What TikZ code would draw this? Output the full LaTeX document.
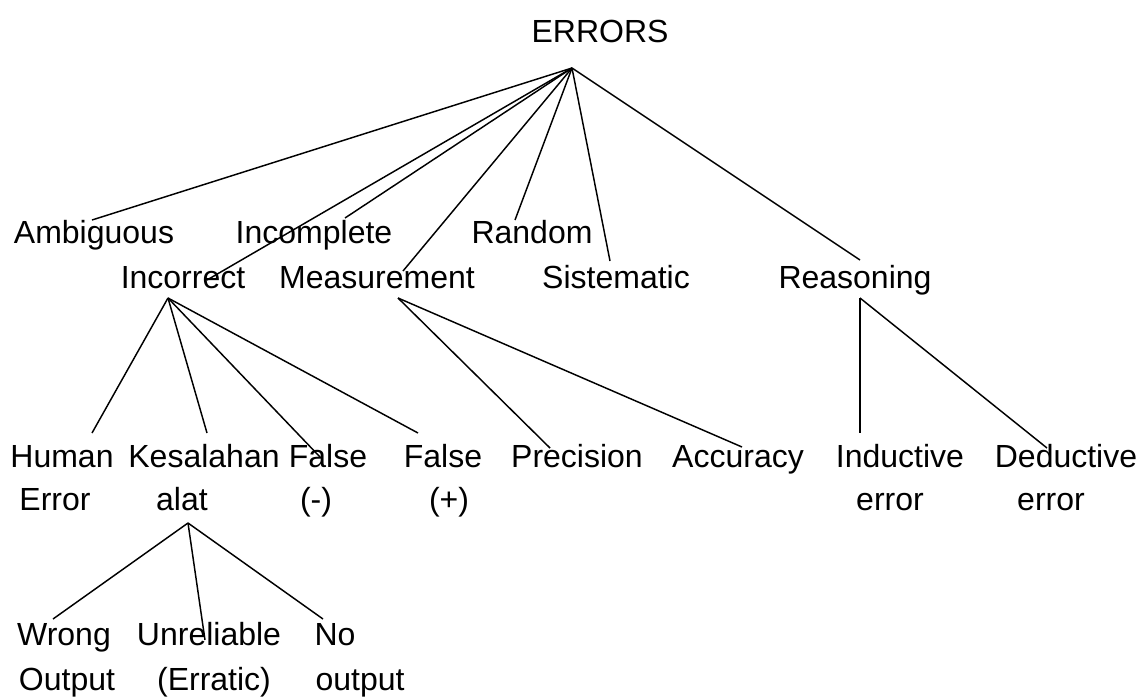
\documentclass[tikz,border=0pt]{standalone}
\usepackage{fontspec}
\setmainfont{Liberation Sans}
\usetikzlibrary{positioning}
\usetikzlibrary{calc}

\begin{document}
\begin{tikzpicture}[x=0.75pt, y=-0.75pt, line width=1.1pt,
    lbl/.style={anchor=base, inner sep=0pt, font=\fontsize{24}{28}\selectfont}]
      \useasboundingbox (0,0) rectangle (1145,697);
      % labels
      \node[lbl] (errors) at (600,42) {ERRORS};
      \node[lbl] (ambiguous) at (94,243) {Ambiguous};
      \node[lbl] (incomplete) at (314,243) {Incomplete};
      \node[lbl] (random) at (532,243) {Random};
      \node[lbl] (incorrect) at (183,288) {Incorrect};
      \node[lbl] (measurement) at (377,288) {Measurement};
      \node[lbl] (sistematic) at (616,288) {Sistematic};
      \node[lbl] (reasoning) at (855,288) {Reasoning};
      \node[lbl] (human) at (62,467) {Human};
      \node[lbl] (human2) at (55,510) {Error};
      \node[lbl] (kesalahan) at (204,467) {Kesalahan};
      \node[lbl] (kesalahan2) at (182,510) {alat};
      \node[lbl] (falseneg) at (328,467) {False};
      \node[lbl] (falseneg2) at (316,510) {(-)};
      \node[lbl] (falsepos) at (443,467) {False};
      \node[lbl] (falsepos2) at (449,510) {(+)};
      \node[lbl] (precision) at (577,467) {Precision};
      \node[lbl] (accuracy) at (738,467) {Accuracy};
      \node[lbl] (inductive) at (900,467) {Inductive};
      \node[lbl] (inductive2) at (890,510) {error};
      \node[lbl] (deductive) at (1066,467) {Deductive};
      \node[lbl] (deductive2) at (1051,510) {error};
      \node[lbl] (wrong) at (64,645) {Wrong};
      \node[lbl] (wrong2) at (67,690) {Output};
      \node[lbl] (unreliable) at (209,645) {Unreliable};
      \node[lbl] (unreliable2) at (214,690) {(Erratic)};
      \node[lbl] (nooutput) at (335,645) {No};
      \node[lbl] (nooutput2) at (360,690) {output};
      % where the lines meet
      \coordinate (errors-out) at (572,68);
      \coordinate (incorrect-out) at (168,298);
      \coordinate (measurement-out) at (398,298);
      \coordinate (reasoning-out) at (860,298);
      \coordinate (kesalahan-out) at (188,523);
      \coordinate (ambiguous-in) at (92,220);
      \coordinate (incomplete-in) at (345,218);
      \coordinate (random-in) at (515,220);
      \coordinate (incorrect-in) at (207,280);
      \coordinate (measurement-in) at (403,271);
      \coordinate (sistematic-in) at (610,261);
      \coordinate (reasoning-in) at (860,260);
      \coordinate (human-in) at (92,433);
      \coordinate (kesalahan-in) at (207,433);
      \coordinate (falseneg-in) at (320,457);
      \coordinate (falsepos-in) at (418,433);
      \coordinate (precision-in) at (550,448);
      \coordinate (accuracy-in) at (742,447);
      \coordinate (inductive-in) at (860,433);
      \coordinate (deductive-in) at (1047,448);
      \coordinate (wrong-in) at (53,619);
      \coordinate (unreliable-in) at (205,640);
      \coordinate (nooutput-in) at (323,619);
      % tree
      \foreach \c in {ambiguous, incomplete, random, incorrect, measurement, sistematic, reasoning}
        \draw (errors-out) -- (\c-in);
      \foreach \c in {human, kesalahan, falseneg, falsepos}
        \draw (incorrect-out) -- (\c-in);
      \foreach \c in {precision, accuracy}
        \draw (measurement-out) -- (\c-in);
      \foreach \c in {inductive, deductive}
        \draw (reasoning-out) -- (\c-in);
      \foreach \c in {wrong, unreliable, nooutput}
        \draw (kesalahan-out) -- (\c-in);
    \end{tikzpicture}
\end{document}
